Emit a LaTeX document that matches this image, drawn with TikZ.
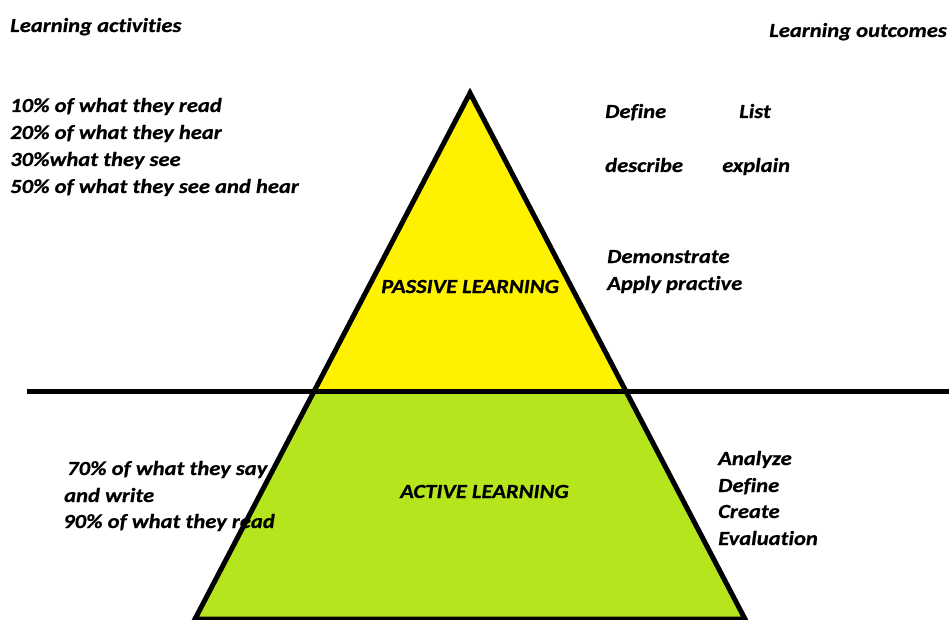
\documentclass[tikz,border=0pt]{standalone}
\usepackage{fontspec}
\setmainfont{Carlito}[FakeStretch=1.13,FakeBold=0.6,Ligatures=NoCommon]
\definecolor{paintyellow}{RGB}{255,242,0}
\definecolor{paintlime}{RGB}{181,230,29}
\begin{document}
\begin{tikzpicture}[x=1pt,y=-1pt,
  lbl/.style={inner sep=0pt,anchor=base west,font=\fontsize{20}{24}\selectfont\bfseries\itshape},
  rlbl/.style={lbl,anchor=base east},
  edge/.style={line width=5pt,line join=miter,line cap=butt}]
\useasboundingbox (0,0) rectangle (949,620);
\begin{scope}
\clip (0,0) rectangle (949,620);
% pyramid corners and the dividing level
\coordinate (apex) at (470,93);
\coordinate (bl) at (195,619);
\coordinate (br) at (745,619);
\coordinate (ml) at (313.6,391);
\coordinate (mr) at (626.4,391);
\coordinate (lineL) at (27,391);
\coordinate (lineR) at (960,391);
% fills
\fill[paintyellow] (apex) -- (ml) -- (mr) -- cycle;
\fill[paintlime] (ml) -- (bl) -- (br) -- (mr) -- cycle;
% texts
\node[lbl] (acts) at (10,32) {Learning activities};
\node[rlbl] (outs) at (947,37) {Learning outcomes};
\node[lbl] (p10) at (10,112) {10\% of what they read};
\node[lbl] (p20) at (10,139) {20\% of what they hear};
\node[lbl] (p30) at (10,166) {30\%what they see};
\node[lbl] (p50) at (10,193) {50\% of what they see and hear};
\node[lbl] (def1) at (605,118) {Define};
\node[lbl] (list) at (739,118) {List};
\node[lbl] (desc) at (605,172) {describe};
\node[lbl] (expl) at (722,172) {explain};
\node[lbl] (demo) at (607,263) {Demonstrate};
\node[lbl] (appl) at (607,290) {Apply practive};
\node[lbl] (passive) at (381,293) {PASSIVE LEARNING};
\node[lbl] (active) at (400,498) {ACTIVE LEARNING};
\node[lbl] (p70) at (67,475) {70\% of what they say};
\node[lbl] (andw) at (64,502) {and write};
\node[lbl] (p90) at (63,528) {90\% of what they read};
\node[lbl] (anal) at (718,465) {Analyze};
\node[lbl] (def2) at (718,492) {Define};
\node[lbl] (crea) at (718,518) {Create};
\node[lbl] (eval) at (718,545) {Evaluation};
% outlines
\draw[edge] (apex) -- (bl) -- (br) -- cycle;
\draw[edge] (lineL) -- (lineR);
\end{scope}
\end{tikzpicture}
\end{document}
